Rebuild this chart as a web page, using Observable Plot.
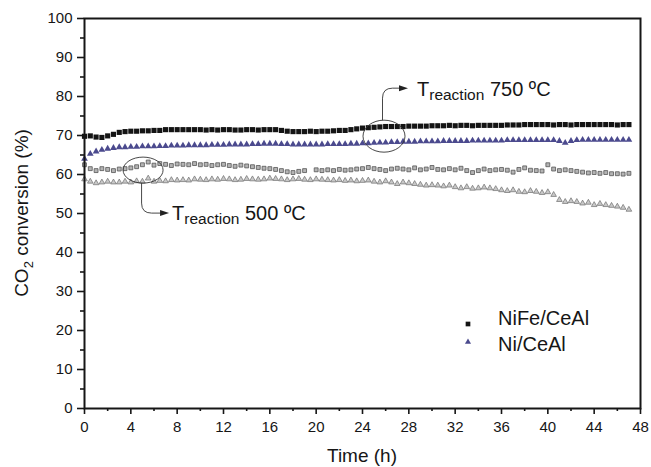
<!DOCTYPE html>
<html><head><meta charset="utf-8">
<script src="https://cdn.jsdelivr.net/npm/d3@7"></script>
<script src="https://cdn.jsdelivr.net/npm/@observablehq/plot@0.6"></script>
<style>body{margin:0;background:#fff;}</style>
</head><body><div id="chart"></div>
<script>
const time = [0,0.5,1,1.5,2,2.5,3,3.5,4,4.5,5,5.5,6,6.5,7,7.5,8,8.5,9,9.5,10,10.5,11,11.5,12,12.5,13,13.5,14,14.5,15,15.5,16,16.5,17,17.5,18,18.5,19,19.5,20,20.5,21,21.5,22,22.5,23,23.5,24,24.5,25,25.5,26,26.5,27,27.5,28,28.5,29,29.5,30,30.5,31,31.5,32,32.5,33,33.5,34,34.5,35,35.5,36,36.5,37,37.5,38,38.5,39,39.5,40,40.5,41,41.5,42,42.5,43,43.5,44,44.5,45,45.5,46,46.5,47];
// NiFe/CeAl at 750 ºC
const nife750 = [69.8,69.9,69.6,69.5,69.9,70.3,70.8,71.0,71.1,71.1,71.2,71.2,71.3,71.3,71.5,71.5,71.5,71.5,71.5,71.5,71.5,71.4,71.5,71.4,71.5,71.5,71.4,71.4,71.5,71.5,71.4,71.5,71.5,71.5,71.3,71.1,71.0,71.0,71.0,71.1,71.0,71.1,71.1,71.2,71.3,71.3,71.5,71.7,71.9,72.0,72.1,72.2,72.3,72.3,72.3,72.3,72.4,72.4,72.4,72.4,72.5,72.5,72.5,72.6,72.5,72.6,72.6,72.5,72.6,72.6,72.6,72.6,72.6,72.7,72.7,72.7,72.8,72.8,72.8,72.8,72.8,72.7,72.8,72.8,72.7,72.8,72.8,72.8,72.8,72.8,72.8,72.8,72.7,72.8,72.8];
// Ni/CeAl at 750 ºC
const ni750 = [64.0,65.3,65.9,66.3,66.6,66.8,67.0,67.0,67.1,67.1,67.2,67.2,67.2,67.3,67.3,67.4,67.4,67.4,67.5,67.5,67.5,67.5,67.6,67.6,67.6,67.7,67.7,67.7,67.7,67.8,67.8,67.9,67.9,67.9,67.8,67.8,67.7,67.7,67.7,67.7,67.7,67.7,67.8,67.8,67.8,67.8,67.9,67.9,68.0,68.0,68.1,68.2,68.2,68.3,68.3,68.4,68.4,68.4,68.5,68.5,68.5,68.5,68.6,68.6,68.6,68.6,68.6,68.7,68.7,68.7,68.7,68.7,68.7,68.8,68.8,68.8,68.8,68.8,68.8,68.8,68.8,68.8,68.6,68.1,68.6,68.8,68.9,68.9,68.9,68.9,68.9,68.9,68.9,68.9,68.9];
// NiFe/CeAl at 500 ºC
const nife500 = [62.5,61.5,61.0,61.5,61.3,61.0,61.4,61.5,61.7,62.0,62.5,63.2,62.4,62.8,62.6,62.3,62.7,62.6,62.5,62.8,62.5,62.6,62.3,62.5,62.6,62.3,62.1,62.4,62.2,62.0,61.8,61.6,61.5,61.3,61.0,60.7,60.5,60.8,61.0,null,61.2,61.0,61.2,61.0,61.3,61.1,61.2,61.4,61.5,61.8,61.5,61.3,61.0,61.4,61.6,61.4,61.2,61.7,61.2,61.4,61.8,61.3,61.2,61.5,61.2,61.6,61.0,60.5,61.0,61.4,61.0,61.2,61.3,61.1,60.6,61.3,61.7,61.1,61.0,60.9,62.5,61.4,61.0,61.2,61.0,60.8,60.6,60.4,60.5,60.3,60.5,60.2,60.2,60.1,60.3];
// Ni/CeAl at 500 ºC
const ni500 = [58.8,58.2,57.8,58.0,58.2,58.0,58.0,58.2,58.0,58.3,58.2,59.0,58.2,58.4,58.3,58.6,58.5,58.6,58.5,58.8,58.7,58.6,58.8,58.7,58.9,58.8,58.6,58.7,58.9,58.8,58.7,58.8,59.0,58.9,58.8,58.6,58.8,58.9,58.7,58.6,58.8,58.7,58.6,58.5,58.6,58.4,58.5,58.3,58.4,58.5,58.2,58.0,58.3,58.0,57.6,58.0,57.8,57.6,57.4,57.2,57.3,57.2,57.0,57.2,56.8,56.5,56.8,56.4,56.5,56.7,56.5,56.3,56.0,55.8,56.0,55.6,55.5,55.8,55.6,55.3,55.5,54.8,53.5,53.0,53.2,53.0,52.6,52.8,52.2,52.5,52.2,52.0,51.8,51.5,51.0];

const xTicks = [0,4,8,12,16,20,24,28,32,36,40,44,48];
const xMinor = [2,6,10,14,18,22,26,30,34,38,42,46];
const yTicks = [0,10,20,30,40,50,60,70,80,90,100];
const yMinor = [5,15,25,35,45,55,65,75,85,95];
const legendNames = ["NiFe/CeAl", "Ni/CeAl"];
const xLabel = "Time (h)";
const annotations = [
  {t: 5.1, v: 61.0, temp: "500 ºC"},
  {t: 25.9, v: 69.7, temp: "750 ºC"}
];

const rows = (vals) => time.map((t, i) => ({t, v: vals[i]})).filter(d => d.v != null);

const FONT = "'Liberation Sans', Arial, Helvetica, sans-serif";
const INK = "#161616";

const chart = Plot.plot({
  width: 651, height: 467,
  marginLeft: 84, marginRight: 11, marginTop: 18, marginBottom: 59,
  style: {fontFamily: FONT, fontSize: "15px", color: INK, background: "#fff", overflow: "visible"},
  x: {domain: [0, 48]},
  y: {domain: [0, 100]},
  marks: [
    Plot.axisY(yTicks, {tickSize: 7, tickPadding: 5, strokeWidth: 1.6, label: null, fontSize: 15}),
    Plot.axisY(yMinor, {tickSize: 4, strokeWidth: 1.6, tickFormat: () => "", label: null}),
    Plot.axisX(xTicks, {tickSize: 6, tickPadding: 7, strokeWidth: 1.6, label: null, fontSize: 15}),
    Plot.axisX(xMinor, {tickSize: 3, strokeWidth: 1.6, tickFormat: () => "", label: null}),
    Plot.dot(rows(ni500), {x: "t", y: "v", symbol: "triangle", r: 2.1, fill: "#c8c8c8", stroke: "#6e6e6e", strokeWidth: 0.7}),
    Plot.dot(rows(nife500), {x: "t", y: "v", symbol: "square", r: 2.2, fill: "#b4b4b4", stroke: "#555", strokeWidth: 0.8}),
    Plot.dot(rows(ni750), {x: "t", y: "v", symbol: "triangle", r: 2.5, fill: "#4b4a8e"}),
    Plot.dot(rows(nife750), {x: "t", y: "v", symbol: "square", r: 2.9, fill: "#141414"}),
    Plot.frame({stroke: INK, strokeWidth: 2})
  ]
});
document.getElementById("chart").appendChild(chart);

const svg = d3.select(chart);
const X = chart.scale("x"), Y = chart.scale("y");
const g = svg.append("g").attr("font-family", FONT).attr("fill", INK).attr("text-anchor", "start");

// axis titles
const x0 = X.apply(0), x1 = X.apply(48), y0 = Y.apply(0), y1 = Y.apply(100);
g.append("text").attr("x", (x0 + x1) / 2).attr("y", y0 + 54).attr("text-anchor", "middle")
  .attr("font-size", 19).text(xLabel);
const yl = g.append("text").attr("transform", `translate(28,${(y0 + y1) / 2}) rotate(-90)`)
  .attr("text-anchor", "middle").attr("font-size", 19);
yl.append("tspan").text("CO");
yl.append("tspan").attr("font-size", 13).attr("dy", 5).text("2");
yl.append("tspan").attr("dy", -5).text(" conversion (%)");

// annotations: ellipse, curved arrow, label
const anno = [
  {rx: 20, ry: 13, dir: 1},
  {rx: 21, ry: 16, dir: -1}
];
annotations.forEach((a, i) => {
  const cx = X.apply(a.t), cy = Y.apply(a.v), s = anno[i];
  g.append("ellipse").attr("cx", cx).attr("cy", cy).attr("rx", s.rx).attr("ry", s.ry)
    .attr("fill", "none").attr("stroke", "#333").attr("stroke-width", 0.9);
  const sx = cx - 1.5, sy = cy + s.dir * s.ry;
  const ey = s.dir > 0 ? cy + 43 : cy - 48;
  const tipX = s.dir > 0 ? cx + 26 : cx + 24;
  const path = `M${sx},${sy} L${sx},${ey - s.dir * 10} Q${sx},${ey} ${sx + 10},${ey} L${tipX - 7},${ey}`;
  g.append("path").attr("d", path).attr("fill", "none").attr("stroke", "#333").attr("stroke-width", 0.9);
  g.append("path").attr("d", `M${tipX},${ey} L${tipX - 9},${ey - 3} L${tipX - 9},${ey + 3} Z`).attr("fill", "#222");
  const tx = tipX + (s.dir > 0 ? 3 : 9);
  const ty = s.dir > 0 ? ey + 7 : ey + 8;
  const t = g.append("text").attr("x", tx).attr("y", ty).attr("font-size", 20);
  t.append("tspan").text("T");
  t.append("tspan").attr("font-size", 15.5).attr("dy", 4).text("reaction");
  t.append("tspan").attr("dy", -4).text(" " + a.temp);
});

// legend
const legendStyles = [
  {type: d3.symbolSquare, size: 22, fill: "#141414", dy: 6},
  {type: d3.symbolTriangle, size: 16, fill: "#4b4a8e", dy: -2}
];
legendNames.forEach((name, i) => {
  const ly = 318 + i * 26;
  const st = legendStyles[i];
  g.append("path").attr("d", d3.symbol(st.type, st.size)()).attr("transform", `translate(468,${ly + st.dy})`).attr("fill", st.fill);
  g.append("text").attr("x", 498).attr("y", ly + 7).attr("font-size", 20).text(name);
});
</script>
</body></html>
